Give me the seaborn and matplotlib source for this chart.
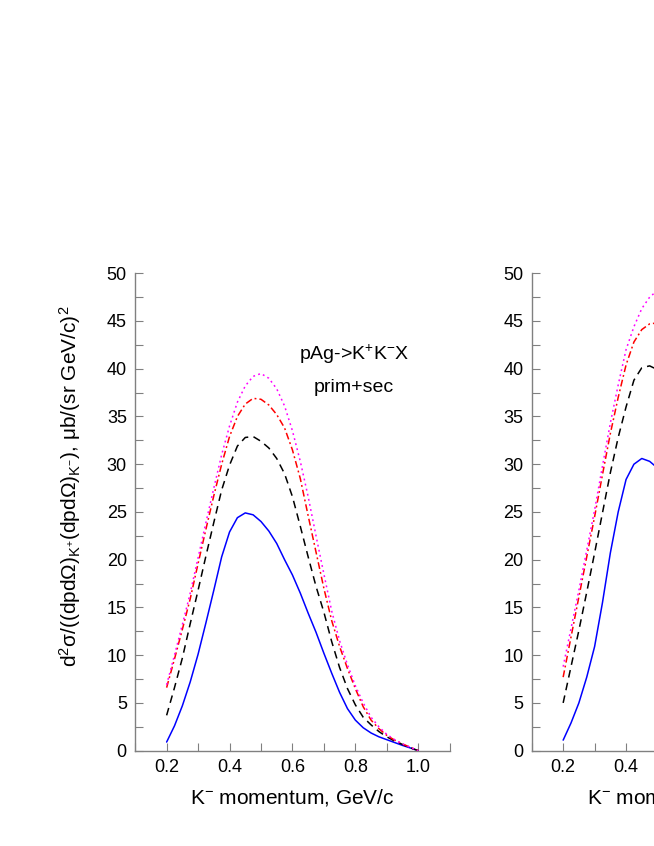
import numpy as np
import pandas as pd
import matplotlib
matplotlib.use("Agg")
import matplotlib.pyplot as plt
import seaborn as sns
from matplotlib.ticker import MultipleLocator

# K- momentum grid (GeV/c), left panel
momentum = [0.200, 0.225, 0.250, 0.275, 0.300, 0.325, 0.350, 0.375, 0.400, 0.425, 0.450,
            0.475, 0.500, 0.525, 0.550, 0.575, 0.600, 0.625, 0.650, 0.675, 0.700, 0.725,
            0.750, 0.775, 0.800, 0.825, 0.850, 0.875, 0.900, 0.925, 0.950, 0.975, 1.000]

curve_names = ["solid", "dashed", "dashdot", "dotted"]

# left panel: pAg -> K+K-X, prim+sec
left_solid = [0.9, 2.6, 4.7, 7.2, 10.1, 13.4, 16.8, 20.3, 22.9, 24.4, 24.9,
              24.7, 24.0, 23.0, 21.7, 20.0, 18.4, 16.5, 14.4, 12.4, 10.2, 8.1,
              6.1, 4.4, 3.2, 2.4, 1.85, 1.45, 1.15, 0.85, 0.55, 0.28, 0.0]
left_dashed = [3.7, 6.6, 9.7, 13.3, 16.8, 20.4, 23.9, 27.3, 29.9, 31.9, 32.8,
               32.9, 32.4, 31.7, 30.6, 29.0, 26.6, 23.5, 20.3, 17.2, 14.5, 11.4,
               8.7, 6.5, 4.8, 3.5, 2.7, 2.0, 1.45, 1.0, 0.65, 0.3, 0.0]
left_dashdot = [6.6, 9.6, 12.7, 15.9, 19.6, 23.2, 26.7, 30.0, 32.9, 35.0, 36.3,
                36.9, 36.8, 36.2, 35.2, 33.8, 31.5, 28.5, 24.6, 20.8, 17.0, 13.6,
                10.9, 8.6, 6.5, 4.6, 3.2, 2.3, 1.6, 1.1, 0.7, 0.35, 0.0]
left_dotted = [6.9, 10.0, 13.2, 16.5, 20.2, 23.9, 27.5, 31.0, 34.0, 36.5, 38.2,
               39.2, 39.5, 39.0, 37.9, 36.1, 33.5, 30.3, 26.6, 22.5, 18.5, 14.6,
               11.5, 9.0, 6.8, 5.0, 3.5, 2.5, 1.7, 1.15, 0.7, 0.35, 0.0]

# right panel (only its left part is inside the figure)
momentum_right = [0.200, 0.225, 0.250, 0.275, 0.300, 0.325, 0.350, 0.375, 0.400,
                  0.425, 0.450, 0.475, 0.500, 0.525, 0.550]
right_solid = [1.1, 2.9, 5.0, 7.7, 10.9, 15.5, 20.7, 25.0, 28.4, 30.0, 30.6, 30.3, 29.6, 28.6, 27.3]
right_dashed = [5.0, 8.8, 12.6, 16.6, 20.7, 24.9, 29.1, 32.8, 36.0, 38.8, 40.1, 40.3, 39.9, 39.0, 37.8]
right_dashdot = [7.7, 11.9, 16.1, 20.3, 24.5, 28.9, 33.2, 37.0, 40.4, 42.8, 44.1, 44.7, 44.8, 44.5, 43.8]
right_dotted = [8.8, 12.8, 16.8, 21.0, 25.2, 29.8, 34.3, 38.3, 42.0, 44.4, 46.3, 47.5, 48.2, 48.4, 48.1]

palette = {"solid": "#0000ff", "dashed": "#000000", "dashdot": "#ff0000", "dotted": "#ff00ff"}
dash_map = {"solid": "", "dashed": (5, 3.5), "dashdot": (4.5, 2, 1.2, 2), "dotted": (1.2, 2.2)}


def long_form(grid, series):
    rows = []
    for name, vals in zip(curve_names, series):
        for p, v in zip(grid, vals):
            rows.append({"p": p, "xs": v, "curve": name})
    return pd.DataFrame(rows)


left_df = long_form(momentum, [left_solid, left_dashed, left_dashdot, left_dotted])
right_df = long_form(momentum_right, [right_solid, right_dashed, right_dashdot, right_dotted])

sns.set_style("ticks")
plt.rcParams["font.family"] = ["Liberation Sans", "DejaVu Sans"]
plt.rcParams["mathtext.default"] = "regular"
plt.rcParams["text.color"] = "black"
plt.rcParams["axes.labelcolor"] = "black"

fig = plt.figure(figsize=(6.54, 8.46), dpi=100)
ax1 = fig.add_axes([0.2067, 0.1127, 0.4809, 0.5643])
ax2 = fig.add_axes([0.813, 0.1127, 0.4809, 0.5643])

for ax, df in [(ax1, left_df), (ax2, right_df)]:
    sns.lineplot(data=df, x="p", y="xs", hue="curve", style="curve",
                 palette=palette, dashes=dash_map, legend=False,
                 linewidth=1.1, ax=ax)
    ax.set_xlim(0.1, 1.1)
    ax.set_ylim(0, 50)
    ax.xaxis.set_major_locator(MultipleLocator(0.2))
    ax.xaxis.set_minor_locator(MultipleLocator(0.1))
    ax.yaxis.set_major_locator(MultipleLocator(5))
    ax.yaxis.set_minor_locator(MultipleLocator(2.5))
    ax.set_xticks([0.2, 0.4, 0.6, 0.8, 1.0])
    ax.set_xticklabels(["0.2", "0.4", "0.6", "0.8", "1.0"])
    for s in ["top", "right"]:
        ax.spines[s].set_visible(False)
    for s in ["left", "bottom"]:
        ax.spines[s].set_color("#808080")
        ax.spines[s].set_linewidth(1.0)
    ax.tick_params(which="both", direction="in", length=6, width=0.8,
                   color="#808080", labelcolor="black", labelsize=13, pad=6)
    ax.set_xlabel("K$^{-}$ momentum, GeV/c", fontsize=15, labelpad=8)
    ax.set_ylabel("")
    ax.set_facecolor("white")

ax1.set_ylabel("d$^{2}$σ/((dpdΩ)$_{K^{+}}$(dpdΩ)$_{K^{-}}$), μb/(sr GeV/c)$^{2}$", fontsize=15)
ax1.yaxis.set_label_coords(-0.166, 0.554)

ax1.text(0.695, 0.83, "pAg->K$^{+}$K$^{-}$X", transform=ax1.transAxes,
         ha="center", va="center", fontsize=14)
ax1.text(0.695, 0.76, "prim+sec", transform=ax1.transAxes,
         ha="center", va="center", fontsize=14)

fig.savefig("out.png", dpi=100, facecolor="white")
